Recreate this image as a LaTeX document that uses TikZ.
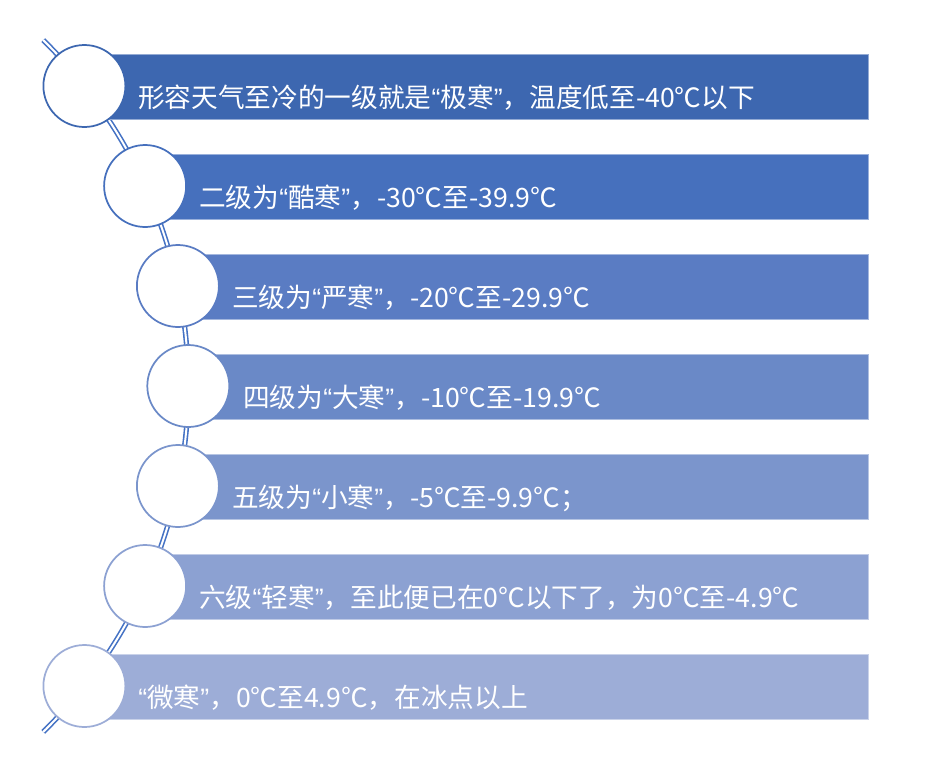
\documentclass[tikz,border=0pt]{standalone}
\usepackage{fontspec}
\setmainfont{Noto Sans CJK SC}
\newfontfamily\latq{Liberation Sans}
\newcommand{\qopen}{{\latq “}}
\newcommand{\qclose}{{\latq ”}}
\definecolor{cA}{HTML}{3D67B0}
\definecolor{cB}{HTML}{4670BD}
\definecolor{cC}{HTML}{5A7CC3}
\definecolor{cD}{HTML}{6A89C7}
\definecolor{cE}{HTML}{7B95CC}
\definecolor{cF}{HTML}{8CA1D2}
\definecolor{cG}{HTML}{9DADD7}
\definecolor{arcblue}{HTML}{4472C4}
\begin{document}
\begin{tikzpicture}[x=0.75pt,y=-0.75pt,
  barbox/.style={rectangle, anchor=north west, inner sep=0pt, minimum height=48.75pt, fill=#1, draw=#1!55!white, line width=0.6pt},
  dot/.style={circle, inner sep=0pt, minimum size=61.5pt, fill=white, draw=#1, line width=1.3pt},
  label/.style={anchor=west, inner sep=0pt, text=white, font=\fontsize{20pt}{24pt}\selectfont}]
\useasboundingbox (0,0) rectangle (928,768);
% timeline arc
\draw[arcblue, line width=1.2pt, double=white, double distance=1.5pt]
  (-296.7,386) ++(45.5:485) arc (45.5:-45.5:485);
% bars
\node[barbox=cA, minimum width=587.7pt] (b1) at (84.4,54) {};
\node[barbox=cB, minimum width=542.2pt] (b2) at (145.1,154) {};
\node[barbox=cC, minimum width=517.6pt] (b3) at (177.9,254) {};
\node[barbox=cD, minimum width=509.8pt] (b4) at (188.3,354) {};
\node[barbox=cE, minimum width=517.6pt] (b5) at (177.9,454) {};
\node[barbox=cF, minimum width=542.2pt] (b6) at (145.1,554) {};
\node[barbox=cG, minimum width=587.7pt] (b7) at (84.4,654) {};
% circles
\node[dot=cA] (c1) at (84.4,86) {};
\node[dot=cB] (c2) at (145.1,186) {};
\node[dot=cC] (c3) at (177.9,286) {};
\node[dot=cD] (c4) at (188.3,386) {};
\node[dot=cE] (c5) at (177.9,486) {};
\node[dot=cF] (c6) at (145.1,586) {};
\node[dot=cG] (c7) at (84.4,686) {};
% texts
\node[label] (t1) at (138,98) {形容天气至冷的一级就是\qopen 极寒\qclose，温度低至-40℃以下};
\node[label] (t2) at (199,198) {二级为\qopen 酷寒\qclose，-30℃至-39.9℃};
\node[label] (t3) at (232,298) {三级为\qopen 严寒\qclose，-20℃至-29.9℃};
\node[label] (t4) at (243,398) {四级为\qopen 大寒\qclose，-10℃至-19.9℃};
\node[label] (t5) at (232,498) {五级为\qopen 小寒\qclose，-5℃至-9.9℃；};
\node[label] (t6) at (199,598) {六级\qopen 轻寒\qclose，至此便已在0℃以下了，为0℃至-4.9℃};
\node[label] (t7) at (138,698) {\qopen 微寒\qclose，0℃至4.9℃，在冰点以上};
\end{tikzpicture}
\end{document}
